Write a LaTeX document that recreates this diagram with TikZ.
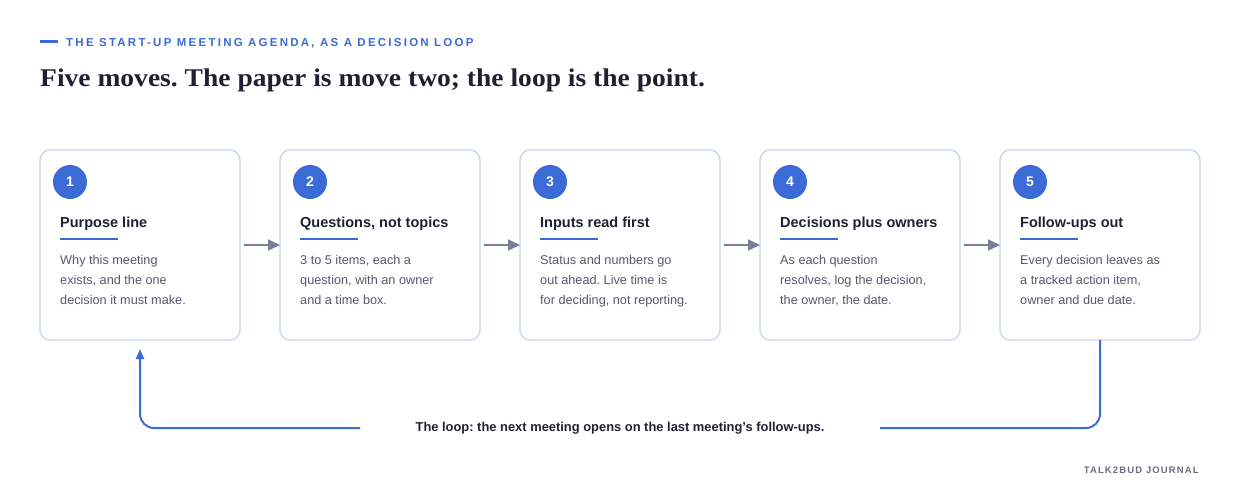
\documentclass[tikz,border=0pt]{standalone}
\usepackage{fontspec}
\setmainfont{Liberation Sans}
\newfontfamily\titleserif[FakeStretch=1.08]{Liberation Serif}
\newfontfamily\trackedsans[LetterSpace=19.5]{Liberation Sans}
\newfontfamily\footsans[LetterSpace=12]{Liberation Sans}
\usetikzlibrary{arrows.meta}
\definecolor{accent}{HTML}{3A6BD6}
\definecolor{ink}{HTML}{1F2133}
\definecolor{bodygray}{HTML}{55596A}
\definecolor{cardborder}{HTML}{C9D7EF}
\definecolor{flowgray}{HTML}{7B8098}
\definecolor{footgray}{HTML}{6B6F7B}
\tikzset{
  card/.style={draw=cardborder, line width=1.4pt, fill=white, rounded corners=10pt,
    minimum width=200pt, minimum height=190pt, inner sep=0pt, outer sep=0pt},
  numdot/.style={circle, fill=accent, minimum size=34pt, inner sep=0pt,
    text=white, font=\fontsize{14}{14}\selectfont\bfseries},
  ctitle/.style={anchor=base west, inner sep=0pt, text=ink,
    font=\fontsize{14.5}{16}\selectfont\bfseries},
  cbody/.style={anchor=base west, inner sep=0pt, text=bodygray,
    font=\fontsize{12.7}{14}\selectfont},
  uline/.style={draw=accent, line width=2.5pt},
  flow/.style={draw=flowgray, line width=2pt, shorten <=4pt,
    -{Triangle[length=12pt,width=11pt]}},
  loopline/.style={draw=accent, line width=2pt, rounded corners=14pt},
}
\newcommand{\agcard}[7]{%
  \node[card] (#1) at (#2+100,245) {};
  \node[numdot] (#1n) at (#2+30,182) {#3};
  \node[ctitle] (#1t) at (#2+20,227.5) {#4};
  \draw[uline] (#2+20,239) -- (#2+78,239);
  \node[cbody] (#1a) at (#2+20,264.5) {#5};
  \node[cbody] (#1b) at (#2+20,284.5) {#6};
  \node[cbody] (#1c) at (#2+20,304.5) {#7};
}
\begin{document}
\frenchspacing
\begin{tikzpicture}[x=1pt,y=-1pt]
\fill[white] (0,0) rectangle (1240,500);
\useasboundingbox (0,0) rectangle (1240,500);
% header
\draw[accent, line width=3pt] (40,42) -- (58,42);
\node[anchor=base west, inner sep=0pt, text=accent,
  font=\fontsize{11.5}{12}\trackedsans\bfseries] (kicker) at (66,46.5)
  {THE START-UP MEETING AGENDA, AS A DECISION LOOP};
\node[anchor=base west, inner sep=0pt, text=ink,
  font=\fontsize{25.5}{28}\titleserif\bfseries] (headline) at (40,87)
  {Five moves. The paper is move two; the loop is the point.};
% cards
\agcard{b1}{40}{1}{Purpose line}{Why this meeting}{exists, and the one}{decision it must make.}
\agcard{b2}{280}{2}{Questions, not topics}{3 to 5 items, each a}{question, with an owner}{and a time box.}
\agcard{b3}{520}{3}{Inputs read first}{Status and numbers go}{out ahead. Live time is}{for deciding, not reporting.}
\agcard{b4}{760}{4}{Decisions plus owners}{As each question}{resolves, log the decision,}{the owner, the date.}
\agcard{b5}{1000}{5}{Follow-ups out}{Every decision leaves as}{a tracked action item,}{owner and due date.}
% flow arrows
\draw[flow] (b1.east) -- (b2.west);
\draw[flow] (b2.east) -- (b3.west);
\draw[flow] (b3.east) -- (b4.west);
\draw[flow] (b4.east) -- (b5.west);
% loop
\coordinate (loopR) at (880,428);
\coordinate (loopL) at (360,428);
\node[inner sep=0pt, text=ink, font=\fontsize{12.9}{13}\selectfont\bfseries] (looptext) at (620,428)
  {The loop: the next meeting opens on the last meeting’s follow-ups.};
\draw[loopline] (b5.south) |- (loopR);
\draw[loopline, shorten >=9pt, -{Triangle[length=10pt,width=8pt]}] (loopL) -| (b1.south);
% footer
\node[anchor=base east, inner sep=0pt, text=footgray,
  font=\fontsize{9.5}{10}\footsans\bfseries] (footer) at (1199,473.5) {TALK2BUD JOURNAL};
\end{tikzpicture}
\end{document}
